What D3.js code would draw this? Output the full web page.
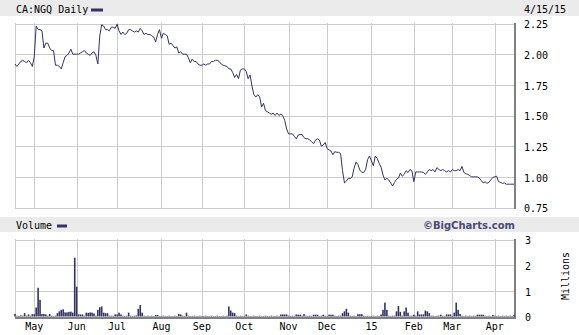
<!DOCTYPE html>
<html>
<head>
<meta charset="utf-8">
<script src="https://cdnjs.cloudflare.com/ajax/libs/d3/7.8.5/d3.min.js"></script>
<style>
    body { margin: 0; background: #fff; }
    text { font-family: "DejaVu Sans Mono", "Liberation Mono", monospace; font-size: 10px; fill: #000; }
</style>
</head>
<body>
<svg id="chart" width="579" height="335"></svg>
<script>
// daily closes, one per weekday from 4/17/14 to 4/15/15
let prices = [
    1.92, 1.90, 1.92, 1.94, 1.95, 1.94, 1.93, 1.95, 1.93, 1.90,
    1.98, 2.23, 2.20, 2.20, 2.19, 2.05, 2.09, 2.09, 2.05, 2.03,
    2.03, 1.91, 1.91, 1.90, 1.88, 1.93, 1.98, 1.99, 2.01, 2.04,
    2.00, 2.00, 2.00, 2.00, 2.01, 2.02, 2.03, 2.01, 2.00, 1.99,
    2.01, 2.02, 1.99, 1.92, 2.15, 2.24, 2.23, 2.20, 2.20, 2.19,
    2.22, 2.22, 2.21, 2.245, 2.19, 2.16, 2.18, 2.16, 2.17, 2.20,
    2.20, 2.19, 2.18, 2.19, 2.18, 2.21, 2.19, 2.16, 2.17, 2.16,
    2.16, 2.15, 2.14, 2.10, 2.16, 2.20, 2.13, 2.17, 2.16, 2.15,
    2.08, 2.09, 2.07, 2.05, 2.06, 2.01, 2.02, 2.00, 2.00, 2.00,
    1.97, 1.93, 1.96, 1.94, 1.94, 1.92, 1.91, 1.91, 1.92, 1.91,
    1.92, 1.92, 1.94, 1.94, 1.95, 1.95, 1.94, 1.92, 1.91, 1.905,
    1.90, 1.88, 1.88, 1.85, 1.81, 1.835, 1.80, 1.87, 1.88, 1.88,
    1.86, 1.80, 1.83, 1.74, 1.67, 1.65, 1.67, 1.65, 1.57, 1.60,
    1.54, 1.53, 1.52, 1.51, 1.52, 1.50, 1.52, 1.50, 1.51, 1.50,
    1.46, 1.39, 1.35, 1.35, 1.35, 1.33, 1.31, 1.34, 1.345, 1.345,
    1.32, 1.31, 1.31, 1.30, 1.285, 1.27, 1.30, 1.31, 1.30, 1.25,
    1.26, 1.28, 1.23, 1.22, 1.21, 1.18, 1.205, 1.20, 1.20, 1.19,
    1.05, 0.95, 0.965, 0.988, 0.985, 1.00, 1.07, 1.12, 1.10, 1.055,
    1.037, 1.035, 1.06, 1.14, 1.17, 1.13, 1.09, 1.17, 1.15, 1.11,
    1.08, 1.015, 0.974, 0.988, 0.975, 0.95, 0.925, 0.955, 0.98, 0.99,
    1.03, 1.005, 1.02, 1.05, 1.035, 1.06, 1.05, 0.96, 1.04, 1.04,
    1.04, 1.04, 1.035, 1.02, 1.04, 1.06, 1.05, 1.06, 1.04, 1.075,
    1.06, 1.05, 1.06, 1.05, 1.04, 1.05, 1.04, 1.06, 1.05, 1.05,
    1.06, 1.05, 1.085, 1.035, 1.025, 1.02, 1.01, 1.00, 1.00, 1.00,
    1.00, 0.99, 0.97, 0.95, 0.96, 0.947, 0.955, 0.975, 0.995, 1.00,
    1.005, 0.96, 0.955, 0.947, 0.95, 0.94, 0.94, 0.94, 0.94, 0.94
];

// volume in millions, same days
let volumes = [
    0.10, 0.03, 0.02, 0.04, 0.03, 0.13, 0.03, 0.08, 0.03, 0.09,
    0.09, 0.35, 1.12, 0.65, 0.10, 0.10, 0.08, 0.03, 0.10, 0.03,
    0.02, 0.03, 0.13, 0.20, 0.26, 0.28, 0.16, 0.16, 0.18, 0.19,
    0.15, 2.29, 1.16, 0.08, 0.08, 0.08, 0.03, 0.15, 0.14, 0.16,
    0.15, 0.12, 0.03, 0.26, 0.36, 0.39, 0.15, 0.13, 0.13, 0.03,
    0.03, 0.02, 0.08, 0.08, 0.15, 0.08, 0.03, 0.02, 0.03, 0.15,
    0.03, 0.02, 0.03, 0.04, 0.30, 0.45, 0.15, 0.03, 0.02, 0.03,
    0.02, 0.03, 0.02, 0.06, 0.06, 0.02, 0.02, 0.03, 0.02, 0.02,
    0.03, 0.02, 0.02, 0.03, 0.02, 0.10, 0.08, 0.03, 0.02, 0.15,
    0.03, 0.02, 0.02, 0.03, 0.02, 0.02, 0.03, 0.02, 0.02, 0.03,
    0.02, 0.02, 0.03, 0.02, 0.02, 0.03, 0.02, 0.02, 0.03, 0.02,
    0.03, 0.39, 0.23, 0.15, 0.13, 0.03, 0.02, 0.03, 0.02, 0.02,
    0.08, 0.03, 0.02, 0.02, 0.03, 0.02, 0.02, 0.03, 0.02, 0.02,
    0.03, 0.02, 0.02, 0.03, 0.02, 0.02, 0.03, 0.02, 0.08, 0.08,
    0.08, 0.08, 0.03, 0.02, 0.03, 0.02, 0.08, 0.07, 0.07, 0.03,
    0.09, 0.03, 0.02, 0.03, 0.02, 0.07, 0.07, 0.07, 0.02, 0.03,
    0.07, 0.03, 0.02, 0.07, 0.07, 0.07, 0.03, 0.02, 0.03, 0.03,
    0.13, 0.20, 0.30, 0.15, 0.03, 0.02, 0.03, 0.02, 0.09, 0.09,
    0.09, 0.03, 0.02, 0.03, 0.02, 0.02, 0.03, 0.02, 0.03, 0.02,
    0.08, 0.26, 0.54, 0.26, 0.03, 0.02, 0.03, 0.03, 0.20, 0.41,
    0.18, 0.03, 0.20, 0.35, 0.15, 0.03, 0.03, 0.07, 0.03, 0.20,
    0.08, 0.08, 0.08, 0.23, 0.20, 0.13, 0.03, 0.03, 0.02, 0.03,
    0.03, 0.07, 0.03, 0.02, 0.08, 0.08, 0.08, 0.03, 0.15, 0.54,
    0.26, 0.10, 0.03, 0.02, 0.03, 0.02, 0.03, 0.02, 0.03, 0.02,
    0.07, 0.07, 0.07, 0.07, 0.03, 0.02, 0.03, 0.02, 0.06, 0.03,
    0.02, 0.03, 0.02, 0.03, 0.02, 0.03, 0.02, 0.03, 0.02, 0.06
];

let monthLabels = ["May", "Jun", "Jul", "Aug", "Sep", "Oct", "Nov", "Dec", "15", "Feb", "Mar", "Apr"];
let priceTicks = [0.75, 1.00, 1.25, 1.50, 1.75, 2.00, 2.25];
let volumeTicks = [0, 1, 2, 3];
let symbol = "CA:NGQ Daily";
let lastDate = "4/15/15";

// trading days (weekdays) covered by the chart
let dates = d3.timeDay.range(new Date(2014, 3, 17), new Date(2015, 3, 16))
    .filter(function(d) { return d.getDay() !== 0 && d.getDay() !== 6; });

let navy = "#333366",
    gridColor = "#cccccc",
    darkEdge = "#808080",
    barColor = "#ebebeb";

let svg = d3.select("#chart"),
    WIDTH = 579,
    LEFT = 15,
    RIGHT = 515;

svg.append("rect").attr("width", WIDTH).attr("height", 335).attr("fill", "#fff");

let x = d3.scalePoint()
    .domain(d3.range(dates.length))
    .range([LEFT, 514]);

let yPrice = d3.scaleLinear().domain([0.75, 2.25]).range([207.5, 23.5]);
let yVol = d3.scaleLinear().domain([0, 3]).range([316.5, 239.5]);

// first trading day of each month -> gridline positions
let monthStarts = d3.range(1, dates.length).filter(function(i) {
    return dates[i].getMonth() !== dates[i - 1].getMonth();
});

// header bars
svg.append("rect").attr("x", 0).attr("y", 0).attr("width", WIDTH).attr("height", 16).attr("fill", barColor);
svg.append("rect").attr("x", 0).attr("y", 217).attr("width", WIDTH).attr("height", 15).attr("fill", barColor);

svg.append("text").attr("x", 16).attr("y", 12.5).text(symbol);
svg.append("rect").attr("x", 91).attr("y", 8.5).attr("width", 12).attr("height", 3).attr("fill", navy);
svg.append("text").attr("x", 524).attr("y", 12.5).text(lastDate);

svg.append("text").attr("x", 16).attr("y", 229).text("Volume");
svg.append("rect").attr("x", 57).attr("y", 224.5).attr("width", 10).attr("height", 3).attr("fill", navy);
svg.append("text")
    .attr("x", RIGHT).attr("y", 229)
    .attr("text-anchor", "end")
    .style("font-family", "Verdana, 'DejaVu Sans', sans-serif")
    .style("font-weight", "bold")
    .style("font-size", "10px")
    .style("fill", "#4a4a78")
    .text("\u00a9BigCharts.com");

function drawPanel(y, ticks, top, bottom, darkBottom) {
    let g = svg.append("g").attr("shape-rendering", "crispEdges");

    g.selectAll(".hgrid")
        .data(ticks)
        .enter().append("line")
        .attr("x1", LEFT).attr("x2", RIGHT)
        .attr("y1", function(d) { return Math.round(y(d)) + 0.5; })
        .attr("y2", function(d) { return Math.round(y(d)) + 0.5; })
        .attr("stroke", gridColor);

    g.selectAll(".vgrid")
        .data(monthStarts)
        .enter().append("line")
        .attr("x1", function(i) { return Math.round(x(i)) + 0.5; })
        .attr("x2", function(i) { return Math.round(x(i)) + 0.5; })
        .attr("y1", top).attr("y2", bottom)
        .attr("stroke", gridColor);

    g.append("line")
        .attr("x1", LEFT + 0.5).attr("x2", LEFT + 0.5)
        .attr("y1", top).attr("y2", bottom)
        .attr("stroke", gridColor);

    g.append("line")
        .attr("x1", RIGHT).attr("x2", RIGHT)
        .attr("y1", top).attr("y2", bottom + (darkBottom ? 2 : 1))
        .attr("stroke", darkEdge).attr("stroke-width", 2);

    if (darkBottom) {
        g.append("line")
            .attr("x1", LEFT).attr("x2", RIGHT + 1)
            .attr("y1", bottom + 1).attr("y2", bottom + 1)
            .attr("stroke", darkEdge).attr("stroke-width", 2);
    }
}

drawPanel(yPrice, priceTicks, 23, 208, false);
drawPanel(yVol, volumeTicks, 239, 317, true);

// price line
let line = d3.line()
    .x(function(d, i) { return x(i); })
    .y(function(d) { return yPrice(d); });

svg.append("path")
    .datum(prices)
    .attr("d", line)
    .attr("fill", "none")
    .attr("stroke", navy)
    .attr("stroke-width", 1);

// volume bars
let barW = 1.6;
svg.append("g").selectAll("rect")
    .data(volumes)
    .enter().append("rect")
    .attr("x", function(d, i) { return x(i) - barW / 2; })
    .attr("y", function(d) { return yVol(d); })
    .attr("width", barW)
    .attr("height", function(d) { return yVol(0) - yVol(d); })
    .attr("fill", navy);

// right axes
let priceAxis = d3.axisRight(yPrice)
    .tickValues(priceTicks)
    .tickFormat(d3.format(".2f"))
    .tickSize(0)
    .tickPadding(9);

svg.append("g")
    .attr("transform", "translate(" + RIGHT + ",1)")
    .call(priceAxis)
    .call(function(g) { g.select(".domain").remove(); });

let volAxis = d3.axisRight(yVol)
    .tickValues(volumeTicks)
    .tickFormat(d3.format("d"))
    .tickSize(0)
    .tickPadding(10);

svg.append("g")
    .attr("transform", "translate(" + RIGHT + ",1)")
    .call(volAxis)
    .call(function(g) { g.select(".domain").remove(); });

svg.selectAll(".tick text").attr("font-family", null).attr("font-size", null);

svg.append("text")
    .attr("transform", "translate(569,276) rotate(-90)")
    .attr("text-anchor", "middle")
    .text("Millions");

// month labels under the volume panel
svg.append("g").selectAll("text")
    .data(monthStarts)
    .enter().append("text")
    .attr("x", function(i) { return x(i); })
    .attr("y", 330)
    .attr("text-anchor", "middle")
    .text(function(d, k) { return monthLabels[k]; });
</script>
</body>
</html>
